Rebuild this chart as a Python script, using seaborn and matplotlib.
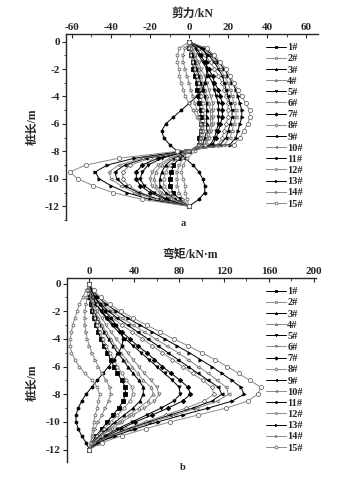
import numpy as np
import pandas as pd
import matplotlib
matplotlib.use('Agg')
import matplotlib.pyplot as plt
import seaborn as sns

# ── data: depth along pile (m), 0.5 m step ───────────────────────
depth = [0, -0.5, -1, -1.5, -2, -2.5, -3, -3.5, -4, -4.5, -5, -5.5, -6,
         -6.5, -7, -7.5, -8, -8.5, -9, -9.5, -10, -10.5, -11, -11.5, -12]

labels = ['1#', '2#', '3#', '4#', '5#', '6#', '7#', '8#', '9#', '10#',
          '11#', '12#', '13#', '14#', '15#']

# shear force (kN) for each series
shear_1 = [0, 0, 1, 2, 2, 3, 4, 4, 5, 5, 6, 6, 6, 6, 5, 5, 0, -5, -8, -9, -10, -10, -8, -5, 0]
shear_2 = [0, 0, 1, 2, 3, 4, 5, 6, 6, 7, 7, 8, 8, 7, 7, 6, 0, -6, -10, -12, -13, -13, -10, -6, 0]
shear_3 = [0, 1, 2, 3, 4, 5, 6, 7, 8, 9, 9, 9, 9, 9, 8, 7, -1, -8, -12, -14, -15, -15, -12, -7, 0]
shear_4 = [0, 1, 3, 4, 5, 6, 7, 8, 9, 10, 11, 11, 11, 10, 9, 8, -1, -9, -14, -17, -18, -17, -14, -8, 0]
shear_5 = [0, 3, 5, 7, 9, 10, 12, 13, 14, 15, 15, 15, 15, 14, 13, 11, -1, -14, -21, -24, -25, -23, -18, -11, 0]
shear_6 = [0, 2, 3, 5, 6, 8, 9, 10, 11, 12, 12, 12, 12, 11, 10, 9, -1, -10, -16, -19, -20, -19, -15, -9, 0]
shear_7 = [0, 4, 6, 8, 10, 12, 13, 15, 16, 17, 17, 17, 16, 15, 14, 12, -2, -16, -24, -27, -27, -25, -20, -12, 0]
shear_8 = [0, 5, 8, 11, 13, 15, 17, 18, 19, 20, 20, 20, 19, 18, 17, 15, -2, -20, -30, -34, -34, -31, -25, -15, 0]
shear_9 = [0, 6, 10, 13, 15, 17, 18, 19, 20, 21, 22, 22, 21, 20, 19, 16, -3, -22, -33, -38, -37, -33, -26, -16, 0]
shear_10 = [0, 7, 11, 14, 16, 18, 20, 21, 22, 23, 24, 24, 23, 22, 21, 18, -3, -24, -36, -41, -40, -35, -28, -17, 0]
shear_11 = [0, 7, 9, 9, 9, 9, 8, 7, 4, 0, -4, -8, -12, -14, -13, -10, -6, -2, 2, 5, 7, 8, 8, 5, 0]
shear_12 = [0, -5, -6, -6, -5, -5, -4, -3, -2, 0, 2, 4, 6, 8, 10, 8, 3, -1, -3, -4, -3, -2, -2, -1, 0]
shear_13 = [0, 8, 12, 15, 18, 20, 22, 24, 25, 26, 27, 27, 26, 25, 24, 21, -4, -28, -42, -48, -46, -40, -32, -20, 0]
shear_14 = [0, -2, -3, -3, -2, -1, 0, 1, 2, 3, 4, 5, 6, 6, 6, 5, 0, -3, -5, -6, -6, -6, -5, -3, 0]
shear_15 = [0, 9, 13, 16, 19, 21, 23, 25, 27, 29, 31, 31, 30, 28, 26, 23, -6, -36, -53, -61, -57, -49, -39, -24, 0]

# bending moment (kN·m) for each series
moment_1 = [0, 0, 0, 1, 2, 4, 6, 8, 10, 13, 16, 19, 22, 25, 29, 32, 32, 30, 26, 21, 16, 11, 6, 2, 0]
moment_2 = [0, 0, 1, 2, 3, 5, 7, 9, 12, 15, 18, 22, 25, 29, 33, 38, 39, 36, 31, 25, 19, 13, 7, 3, 0]
moment_3 = [0, 0, 1, 2, 4, 7, 10, 13, 17, 21, 25, 30, 34, 39, 44, 48, 48, 45, 39, 31, 23, 16, 9, 3, 0]
moment_4 = [0, 0, 1, 3, 5, 8, 11, 15, 19, 23, 28, 33, 38, 43, 48, 55, 57, 52, 44, 35, 26, 18, 10, 4, 0]
moment_5 = [0, 1, 3, 6, 10, 15, 20, 26, 32, 39, 46, 53, 60, 67, 74, 80, 81, 75, 64, 51, 38, 25, 14, 5, 0]
moment_6 = [0, 0, 2, 4, 7, 11, 15, 19, 24, 29, 34, 39, 44, 49, 55, 60, 62, 58, 49, 39, 29, 20, 11, 4, 0]
moment_7 = [0, 1, 3, 6, 11, 16, 22, 29, 36, 43, 51, 58, 65, 73, 81, 88, 90, 83, 70, 56, 41, 28, 16, 6, 0]
moment_8 = [0, 1, 4, 8, 14, 21, 29, 38, 47, 56, 65, 74, 83, 92, 101, 109, 111, 102, 86, 68, 50, 33, 18, 6, 0]
moment_9 = [0, 2, 5, 10, 17, 25, 34, 43, 52, 61, 70, 79, 88, 97, 106, 115, 118, 109, 92, 72, 53, 35, 19, 7, 0]
moment_10 = [0, 2, 6, 12, 20, 29, 39, 49, 59, 69, 79, 88, 97, 106, 114, 122, 124, 114, 96, 76, 56, 37, 20, 7, 0]
moment_11 = [0, 2, 5, 9, 14, 19, 24, 28, 30, 29, 26, 22, 17, 12, 7, 2, -3, -7, -10, -12, -12, -10, -7, -3, 0]
moment_12 = [0, -3, -6, -9, -11, -13, -15, -16, -17, -17, -16, -13, -9, -4, 2, 7, 9, 8, 7, 5, 4, 3, 2, 1, 0]
moment_13 = [0, 3, 8, 15, 24, 34, 45, 56, 67, 78, 89, 99, 109, 118, 127, 135, 138, 127, 106, 83, 61, 41, 23, 8, 0]
moment_14 = [0, -1, -2, -3, -4, -4, -4, -3, -2, 0, 2, 5, 8, 11, 15, 18, 19, 17, 14, 11, 8, 5, 3, 1, 0]
moment_15 = [0, 4, 10, 18, 28, 39, 51, 63, 75, 88, 100, 112, 123, 133, 143, 153, 150, 141, 122, 97, 72, 50, 29, 11, 0]

shear = [shear_1, shear_2, shear_3, shear_4, shear_5, shear_6, shear_7, shear_8,
         shear_9, shear_10, shear_11, shear_12, shear_13, shear_14, shear_15]
moment = [moment_1, moment_2, moment_3, moment_4, moment_5, moment_6, moment_7, moment_8,
          moment_9, moment_10, moment_11, moment_12, moment_13, moment_14, moment_15]

# marker style per series (Origin-like: filled / open pairs)
markers = ['s', 'o', '^', '^', 'v', 'v', 'D', 'D', '<', '<', 'h', 'h', '>', '>', 'o']
filled = [True, False, True, False, True, False, True, False,
          True, False, True, False, True, False, False]

# ── style ─────────────────────────────────────────────────────────
sns.set_style('ticks')
plt.rcParams['font.family'] = ['Liberation Serif', 'Noto Sans CJK SC']
plt.rcParams['font.weight'] = 'bold'
plt.rcParams['axes.linewidth'] = 1.0

W, H = 354, 478
fig = plt.figure(figsize=(W / 100, H / 100), dpi=100)


def px_axes(left, top, right, bottom):
    return fig.add_axes([left / W, 1 - bottom / H, (right - left) / W, (bottom - top) / H])


def draw_panel(ax, data):
    for i, (vals, lab) in enumerate(zip(data, labels)):
        df = pd.DataFrame({'x': vals, 'depth': depth})
        if filled[i]:
            col, mfc, mec = 'black', 'black', 'black'
        else:
            col, mfc, mec = '#8a8a8a', 'white', '#6a6a6a'
        ms = 3.0 if i == 14 else 2.3
        sns.lineplot(data=df, x='x', y='depth', sort=False, estimator=None, ax=ax,
                     color=col, lw=0.7, marker=markers[i], ms=ms, mfc=mfc, mec=mec,
                     mew=0.6, label=lab)
    ax.set_xlabel('')
    ax.set_ylabel('')
    ax.spines['right'].set_visible(False)
    ax.spines['bottom'].set_visible(False)
    ax.xaxis.tick_top()
    ax.tick_params(axis='x', which='both', direction='in', top=True, bottom=False,
                   labelsize=8, pad=1.5)
    ax.tick_params(axis='x', which='major', length=3)
    ax.tick_params(axis='x', which='minor', length=2)
    ax.tick_params(axis='y', which='major', direction='out', length=3,
                   labelsize=8, pad=1.5)
    ax.tick_params(axis='y', which='minor', direction='out', length=1.5)
    ax.set_yticks([0, -2, -4, -6, -8, -10, -12])
    ax.set_yticklabels(['0', '-2', '-4', '-6', '-8', '-10', '-12'])
    ax.yaxis.set_minor_locator(matplotlib.ticker.MultipleLocator(1))
    for t in ax.get_xticklabels() + ax.get_yticklabels():
        t.set_fontweight('bold')


def add_legend(ax, top_px):
    ax.legend(loc='upper left', bbox_to_anchor=(266 / W, 1 - top_px / H),
              bbox_transform=fig.transFigure, frameon=False,
              prop={'weight': 'bold', 'size': 7.5},
              handlelength=1.9, handletextpad=0.15, labelspacing=0.18,
              borderpad=0, borderaxespad=0, markerscale=0.7)


# ── panel a: shear ────────────────────────────────────────────────
ax1 = px_axes(66, 34, 318, 220)
draw_panel(ax1, shear)
ax1.set_xlim(-63, 66)
ax1.set_ylim(-13, 0.55)
ax1.set_xticks([-60, -40, -20, 0, 20, 40, 60])
ax1.set_xticklabels(['-60', '-40', '-20', '0', '20', '40', '60'])
ax1.xaxis.set_minor_locator(matplotlib.ticker.MultipleLocator(10))
add_legend(ax1, 43)

# ── panel b: moment ───────────────────────────────────────────────
ax2 = px_axes(67, 278, 316, 462)
draw_panel(ax2, moment)
ax2.set_xlim(-20, 202)
ax2.set_ylim(-12.9, 0.4)
ax2.set_xticks([0, 40, 80, 120, 160, 200])
ax2.set_xticklabels(['0', '40', '80', '120', '160', '200'])
ax2.xaxis.set_minor_locator(matplotlib.ticker.MultipleLocator(20))
add_legend(ax2, 287)

# ── titles, axis names, captions ─────────────────────────────────
fig.text(192 / W, 1 - 14 / H, '剪力/kN', ha='center', va='center', fontsize=8.5, fontweight='bold')
fig.text(190 / W, 1 - 255 / H, '弯矩/kN·m', ha='center', va='center', fontsize=8.5, fontweight='bold')
fig.text(33 / W, 1 - 127 / H, '桩长/m', ha='center', va='center', rotation=90, fontsize=8.5, fontweight='bold')
fig.text(33 / W, 1 - 383 / H, '桩长/m', ha='center', va='center', rotation=90, fontsize=8.5, fontweight='bold')
fig.text(183 / W, 1 - 223 / H, 'a', ha='center', va='center', fontsize=7.5, fontweight='bold')
fig.text(183 / W, 1 - 468 / H, 'b', ha='center', va='center', fontsize=7.5, fontweight='bold')

fig.savefig('out.png', dpi=100)
